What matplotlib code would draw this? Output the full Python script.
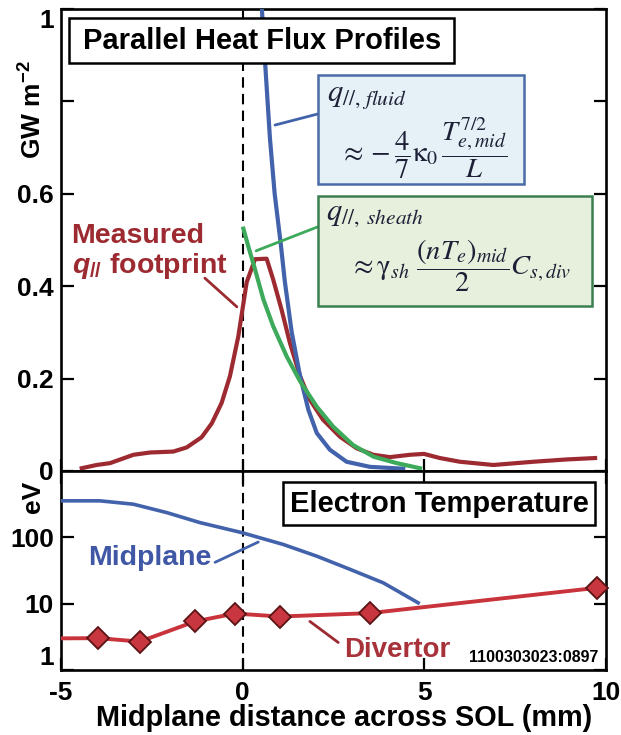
import numpy as np
import matplotlib.pyplot as plt
from matplotlib.patches import Rectangle

plt.rcParams["font.family"] = ["Liberation Sans", "DejaVu Sans"]
plt.rcParams["axes.unicode_minus"] = False
plt.rcParams["mathtext.fontset"] = "custom"
plt.rcParams["mathtext.rm"] = "Liberation Sans:bold"
plt.rcParams["mathtext.it"] = "Liberation Sans:bold:italic"
plt.rcParams["mathtext.bf"] = "Liberation Sans:bold"

# ---- parallel heat flux profiles (GW m^-2) vs midplane distance (mm)
meas_x = [-4.43, -4.02, -3.65, -3.01, -2.55, -1.91, -1.54, -1.13, -0.85, -0.58,
          -0.35, -0.12, 0.11, 0.34, 0.66, 0.84, 1.07, 1.30, 1.58, 1.85, 2.21,
          2.68, 3.14, 3.60, 4.05, 4.60, 4.99, 5.43, 5.98, 6.90, 8.00, 8.92, 9.70]
meas_q = [0.006, 0.013, 0.017, 0.035, 0.040, 0.042, 0.051, 0.073, 0.103, 0.147,
          0.205, 0.291, 0.408, 0.458, 0.459, 0.414, 0.349, 0.277, 0.205, 0.154,
          0.111, 0.074, 0.049, 0.035, 0.030, 0.035, 0.037, 0.028, 0.020, 0.013,
          0.020, 0.025, 0.028]

fluid_x = [0.52, 0.62, 0.75, 0.88, 1.05, 1.16, 1.35, 1.58, 1.81, 2.04, 2.40,
           2.86, 3.50, 4.42]
fluid_q = [1.01, 0.88, 0.72, 0.60, 0.49, 0.41, 0.30, 0.205, 0.132, 0.082, 0.046,
           0.020, 0.009, 0.005]

sheath_x = [0.02, 0.15, 0.34, 0.57, 0.84, 1.21, 1.58, 2.04, 2.49, 3.04, 3.60,
            4.24, 4.88]
sheath_q = [0.524, 0.487, 0.436, 0.371, 0.313, 0.248, 0.194, 0.139, 0.096,
            0.056, 0.031, 0.017, 0.006]

# ---- electron temperature (eV)
mid_x = [-5.0, -3.93, -3.01, -2.09, -1.18, -0.03, 1.12, 2.04, 2.95, 3.87, 4.83]
mid_te = [355, 355, 316, 236, 167, 118, 78, 52, 33, 20.6, 10.3]

div_x = [-3.97, -2.83, -1.31, -0.21, 1.03, 3.50, 9.74]
div_te = [3.02, 2.68, 5.4, 7.1, 6.4, 7.2, 17.3]
div_edge_x = [-5.0, 10.0]
div_edge_te = [3.0, 18.3]

x_ticks = [-5, 0, 5, 10]
x_labels = ["-5", "0", "5", "10"]
q_ticks = [0, 0.2, 0.4, 0.6, 0.8, 1.0]
q_labels = ["0", "0.2", "0.4", "0.6", "", "1"]
te_ticks = [1, 10, 100]
te_labels = ["1", "10", "100"]

RED_DARK = "#9c2a30"
RED = "#c9343c"
BLUE = "#4262ab"
GREEN = "#3caa5a"
INK = "#1d2036"
TICK_FS = 19

W, H = 621, 735
fig = plt.figure(figsize=(W / 100, H / 100), dpi=100)


def fx(x):
    return x / W


def fy(y):
    return 1 - y / H


def pixel_box(x0, y0, x1, y1, fc, ec, lw):
    rect = Rectangle((fx(x0), fy(y1)), (x1 - x0) / W, (y1 - y0) / H,
                     transform=fig.transFigure, facecolor=fc, edgecolor=ec,
                     linewidth=lw, zorder=5)
    fig.add_artist(rect)


def label(x, y, s, size, **kw):
    kw.setdefault("ha", "center")
    kw.setdefault("va", "center")
    return fig.text(fx(x), fy(y), s, fontsize=size, fontweight="bold", **kw)


def formula(x, y, s, size, ha="left"):
    fig.text(fx(x), fy(y), s, math_fontfamily="stix", fontsize=size,
             ha=ha, va="center", color=INK, zorder=6)


ax = fig.add_axes([fx(61), fy(471), 545 / W, 462.5 / H])
axb = fig.add_axes([fx(61), fy(670), 545 / W, 199 / H])
axb.set_yscale("log")

for a in (ax, axb):
    for s in a.spines.values():
        s.set_linewidth(1.9)
    a.set_xlim(-5, 10)
    a.set_xticks(x_ticks)
    a.set_xticklabels(x_labels, fontsize=TICK_FS, fontweight="bold")
    a.axvline(0, color="black", lw=1.5, dashes=(5, 3), zorder=1)
    a.tick_params(which="both", direction="in", length=9, width=1.6, pad=5)

# top panel
ax.plot(meas_x, meas_q, color=RED_DARK, lw=3.0, zorder=3)
ax.plot(fluid_x, fluid_q, color=BLUE, lw=3.0, zorder=3)
ax.plot(sheath_x, sheath_q, color=GREEN, lw=3.0, zorder=4)
ax.set_ylim(0, 1.0)
ax.set_yticks(q_ticks)
ax.set_yticklabels(q_labels, fontsize=TICK_FS, fontweight="bold")
ax.tick_params(axis="y", right=True)
ax.tick_params(axis="x", labelbottom=False)
ax.yaxis.get_major_ticks()[-1].label1.set_verticalalignment("top")

ax.annotate("", xy=(-0.16, 0.355), xytext=(-1.04, 0.417),
            arrowprops=dict(arrowstyle="-", color=RED_DARK, lw=2.0,
                            shrinkA=0, shrinkB=0))
ax.annotate("", xy=(0.89, 0.748), xytext=(2.07, 0.772),
            arrowprops=dict(arrowstyle="-", color=BLUE, lw=2.0,
                            shrinkA=0, shrinkB=0))
ax.annotate("", xy=(0.37, 0.476), xytext=(2.07, 0.528),
            arrowprops=dict(arrowstyle="-", color=GREEN, lw=2.0,
                            shrinkA=0, shrinkB=0))

# bottom panel
axb.plot(mid_x, mid_te, color=BLUE, lw=2.6, zorder=3)
axb.plot(div_edge_x[:1] + div_x + div_edge_x[1:],
         div_edge_te[:1] + div_te + div_edge_te[1:],
         color=RED, lw=2.8, zorder=3)
axb.plot(div_x, div_te, ls="none", marker="D", ms=11, mfc="#c8373f",
         mec="#5a1416", mew=1.3, zorder=4, clip_on=False)
axb.set_ylim(1, 1000)
axb.set_yticks(te_ticks)
axb.set_yticklabels(te_labels, fontsize=TICK_FS, fontweight="bold")
axb.minorticks_off()
axb.tick_params(axis="y", right=True)
axb.tick_params(axis="x", top=True, pad=8)
axb.yaxis.get_major_ticks()[0].label1.set_verticalalignment("bottom")

axb.annotate("", xy=(0.43, 85), xytext=(-0.76, 42),
             arrowprops=dict(arrowstyle="-", color=BLUE, lw=2.0,
                             shrinkA=0, shrinkB=0))
axb.annotate("", xy=(1.85, 5.4), xytext=(2.63, 2.6),
             arrowprops=dict(arrowstyle="-", color=RED_DARK, lw=2.0,
                             shrinkA=0, shrinkB=0))

# panel titles
pixel_box(69, 18, 454, 63, "white", "black", 1.8)
label(262, 41, "Parallel Heat Flux Profiles", 21, zorder=6)
pixel_box(283, 482, 595, 525, "white", "black", 1.8)
label(439, 504, "Electron Temperature", 21, zorder=6)

# model formula boxes
pixel_box(318, 75, 524, 184, "#e6f1f7", "#4a6ba8", 1.8)
formula(327, 96, r"$q_{//,\,fluid}$", 22)
formula(423, 148,
        r"$\approx -\dfrac{4}{7}\mathrm{\kappa}_0\,\dfrac{T_{e,mid}^{7/2}}{L}$",
        20.5, ha="center")
pixel_box(318, 196, 592, 306, "#e7efdd", "#3a7f50", 1.8)
formula(326, 214, r"$q_{//,\ sheath}$", 22)
formula(460, 266,
        r"$\approx \mathrm{\gamma}_{sh}\ \dfrac{(nT_e)_{mid}}{2}C_{s,div}$",
        20.5, ha="center")

# curve labels
label(138, 236, "Measured", 20.5, color=RED_DARK)
label(72, 266, r"$q_{//}$ footprint", 20.5, color=RED_DARK, ha="left")
label(150, 558, "Midplane", 20.5, color="#3f57a5")
label(397, 650, "Divertor", 20, color="#a8323a")
label(598, 657, "1100303023:0897", 11.5, ha="right")

# axis labels
label(33, 110, r"GW m$^{-2}$", 19, rotation=90)
label(33, 497, "eV", 19, rotation=90)
label(344, 718, "Midplane distance across SOL (mm)", 20.8)

fig.savefig("out.png", dpi=100)
